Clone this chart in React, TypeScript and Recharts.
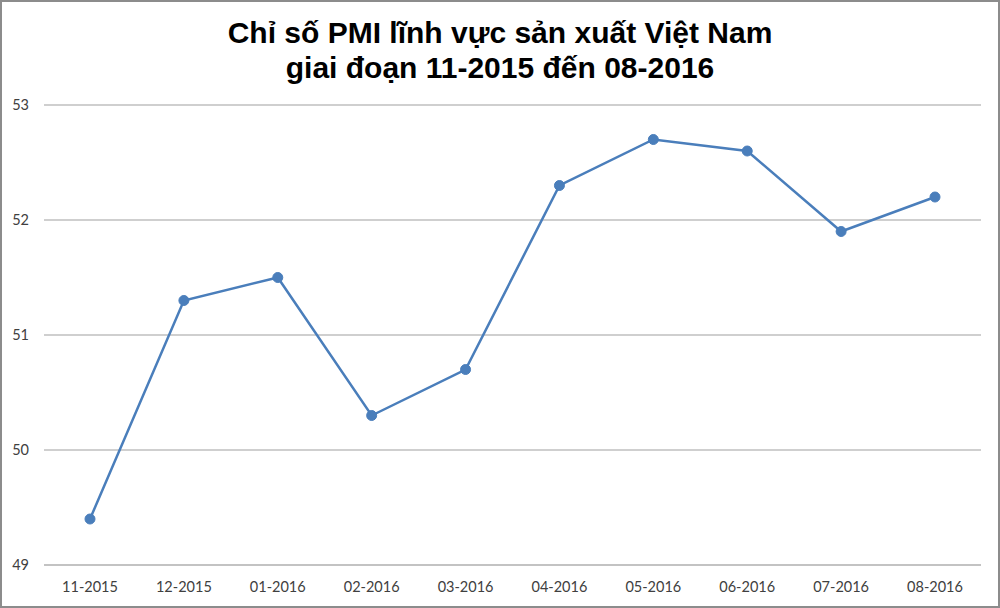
import { LineChart, Line, XAxis, YAxis, CartesianGrid } from "recharts";

const months = ["11-2015", "12-2015", "01-2016", "02-2016", "03-2016", "04-2016", "05-2016", "06-2016", "07-2016", "08-2016"];
const pmi = [49.4, 51.3, 51.5, 50.3, 50.7, 52.3, 52.7, 52.6, 51.9, 52.2];
const yTicks = [49, 50, 51, 52, 53];

const data = months.map((month, i) => ({ month, pmi: pmi[i] }));

const tickStyle = { fill: "#404040", fontSize: 14.5, fontFamily: "Lato, 'Open Sans', sans-serif" };

export default function App() {
  return (
    <div
      style={{
        position: "fixed",
        left: 0,
        top: 0,
        width: 1000,
        height: 608,
        background: "#fff",
        border: "2px solid #8c8c8c",
        boxSizing: "border-box",
      }}
    >
      <div
        style={{
          position: "absolute",
          left: 0,
          right: 0,
          top: 13,
          textAlign: "center",
          fontFamily: "'Liberation Sans', Arial, sans-serif",
          fontWeight: "bold",
          fontSize: 30,
          lineHeight: "35px",
          color: "#000",
        }}
      >
        Chỉ số PMI lĩnh vực sản xuất Việt Nam
        <br />
        giai đoạn 11-2015 đến 08-2016
      </div>
      <div style={{ position: "absolute", left: -2, top: -2 }}>
        <LineChart width={1000} height={608} data={data} margin={{ top: 105, right: 19, bottom: 0, left: 0 }}>
          <CartesianGrid vertical={false} stroke="#bfbfbf" strokeWidth={1.3} />
          <XAxis
            dataKey="month"
            height={43}
            padding={{ left: 46, right: 46 }}
            axisLine={{ stroke: "#bfbfbf", strokeWidth: 1.3 }}
            tickLine={false}
            tickSize={0}
            tickMargin={17}
            tick={tickStyle}
            interval={0}
          />
          <YAxis
            width={44}
            domain={[49, 53]}
            ticks={yTicks}
            axisLine={false}
            tickLine={false}
            tickSize={0}
            tickMargin={15}
            tick={tickStyle}
          />
          <Line
            type="linear"
            dataKey="pmi"
            stroke="#4a7ebb"
            strokeWidth={2.5}
            dot={{ r: 5, fill: "#4a7ebb", stroke: "#4a7ebb", strokeWidth: 1 }}
            isAnimationActive={false}
          />
        </LineChart>
      </div>
    </div>
  );
}
